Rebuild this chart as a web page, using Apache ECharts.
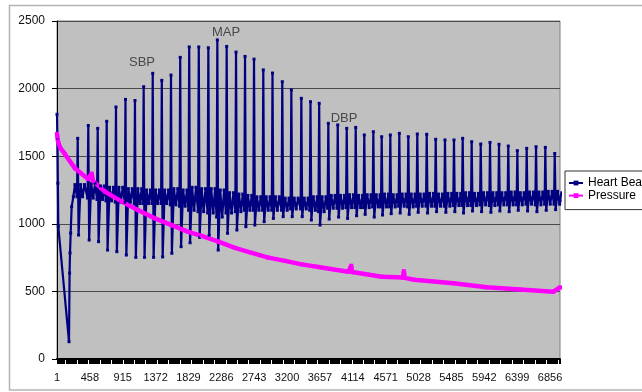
<!DOCTYPE html>
<html><head><meta charset="utf-8">
<script src="https://cdn.jsdelivr.net/npm/echarts@6/dist/echarts.min.js"></script>
<style>html,body{margin:0;padding:0;background:#fff}#c{width:642px;height:392px}</style>
</head><body><div id="c"></div>
<script>
// ---- data ----
const xTickLabels = ['1','458','915','1372','1829','2286','2743','3200','3657','4114','4571','5028','5485','5942','6399','6856'];
const xStep = 457;
const xLast = 6993;

// initial transient of the heart-beat trace (sample, value)
const startX = [0, 6, 12, 18, 167, 175, 181, 190, 204, 227, 250];
const startY = [1810, 1620, 1300, 980, 128, 636, 784, 932, 1127, 1200, 1290];

// per-beat samples: position of the beat, peak, trough, band high, band low
const beatX = [288,435,566,691,820,952,1084,1205,1331,1457,
  1585,1713,1838,1971,2104,2229,2359,2489,2614,2739,
  2868,2996,3132,3258,3397,3524,3645,3772,3903,4028,
  4153,4272,4398,4514,4634,4759,4884,5009,5140,5265,
  5394,5519,5640,5765,5891,6020,6145,6274,6400,6530,
  6660,6789,6920];
const beatPeak = [1632,1727,1706,1758,1864,1920,1912,2014,2113,2061,
  2100,2231,2308,2308,2302,2360,2312,2270,2238,2218,
  2138,2115,2051,1990,1928,1903,1891,1743,1731,1706,
  1713,1657,1681,1644,1657,1669,1644,1664,1662,1625,
  1620,1620,1632,1607,1590,1602,1588,1575,1541,1558,
  1570,1565,1520];
const beatTrough = [917,880,868,806,794,769,752,752,752,755,
  782,831,860,900,917,806,930,954,979,991,
  1016,1040,1053,1053,1053,1028,991,1035,1050,1040,
  1060,1070,1050,1065,1075,1080,1070,1085,1080,1090,
  1085,1090,1080,1095,1090,1085,1095,1090,1100,1095,
  1090,1100,1105];
const bandHigh = [1290,1300,1280,1270,1270,1260,1260,1250,1250,1250,
  1260,1250,1270,1260,1260,1250,1230,1220,1210,1200,
  1200,1200,1190,1190,1190,1200,1200,1210,1210,1215,
  1210,1215,1215,1220,1215,1220,1220,1220,1225,1220,
  1225,1225,1230,1225,1230,1230,1230,1235,1230,1235,
  1235,1240,1240];
const bandLow = [1200,1190,1180,1170,1160,1160,1150,1150,1150,1150,
  1140,1130,1100,1090,1080,1050,1080,1090,1100,1100,
  1100,1100,1100,1110,1110,1100,1090,1115,1115,1120,
  1120,1120,1125,1125,1125,1130,1125,1130,1130,1130,
  1130,1135,1135,1135,1140,1135,1140,1140,1140,1145,
  1140,1145,1145];
const heartEnd = 1170;

// pressure trace (sample, value)
const pressureX = [0,14,42,111,250,435,482,500,667,900,1130,1362,1595,1825,2012,2243,2475,2707,2938,3170,3402,3633,4050,4090,4104,4514,4810,4822,4834,4963,5510,5974,6437,6900,6993];
const pressureY = [1665,1610,1565,1515,1410,1330,1372,1318,1238,1164,1100,1040,990,940,910,868,822,785,750,726,700,681,646,690,643,609,602,650,600,586,560,530,514,498,530];

// annotations
const noteText = ['SBP','MAP','DBP'];
const noteX = [1182, 2349, 3990];
const noteY = [2197, 2419, 1780];

// ---- build series data ----
const heart = startX.map((x, i) => [x, startY[i]]);
beatX.forEach((t, i) => {
  heart.push([t - 10, bandLow[i]]);
  heart.push([t, beatPeak[i]]);
  heart.push([t + 12, beatTrough[i]]);
  heart.push([t + 40, bandHigh[i]]);
  heart.push([t + 68, bandLow[i]]);
  heart.push([t + 94, bandHigh[i]]);
});
heart.push([xLast, heartEnd]);
const pressure = pressureX.map((x, i) => [x, pressureY[i]]);
const notes = noteText.map((n, i) => ({ name: n, value: [noteX[i], noteY[i]] }));

const chart = echarts.init(document.getElementById('c'), null, { renderer: 'canvas' });
chart.setOption({
  animation: false,
  backgroundColor: '#fff',
  textStyle: { fontFamily: 'Liberation Sans, Arial, sans-serif' },
  graphic: [{
    type: 'rect', silent: true, z: -10,
    shape: { x: 9.5, y: 5.5, width: 640, height: 384.5 },
    style: { fill: 'none', stroke: '#b4b4b4', lineWidth: 1.5 }
  }],
  grid: {
    left: 57, right: 82, top: 21, bottom: 33,
    show: true, backgroundColor: '#c0c0c0', borderColor: '#808080', borderWidth: 1
  },
  legend: {
    data: ['Heart Beat', 'Pressure'],
    orient: 'vertical', left: 565, top: 171,
    borderColor: '#333', borderWidth: 1, borderRadius: 0,
    padding: [6, 40, 8, 3],
    itemWidth: 14, itemHeight: 6, itemGap: 0.6,
    textStyle: { fontSize: 12, lineHeight: 10, color: '#000', fontFamily: 'Liberation Sans, Arial, sans-serif' }
  },
  xAxis: {
    type: 'value', min: 0, max: xLast, interval: xStep,
    axisLine: { show: true, lineStyle: { color: '#000', width: 2 } },
    axisTick: { show: true, length: 5, lineStyle: { color: '#000' } },
    minorTick: { show: true, splitNumber: 30, length: 5, lineStyle: { color: '#000' } },
    splitLine: { show: false },
    axisLabel: {
      showMaxLabel: false, margin: 13, fontSize: 11, color: '#111',
      formatter: v => { const k = Math.round(v / xStep); return Math.abs(k * xStep - v) < 1e-6 && xTickLabels[k] ? xTickLabels[k] : ''; }
    }
  },
  yAxis: {
    type: 'value', min: 0, max: 2500, interval: 500,
    axisLine: { show: true, lineStyle: { color: '#000', width: 1 } },
    axisTick: { show: true, length: 5, lineStyle: { color: '#000' } },
    splitLine: { show: true, lineStyle: { color: '#4a4a4a', width: 1 } },
    axisLabel: { margin: 12, fontSize: 12, color: '#111', formatter: v => String(v) }
  },
  series: [
    {
      name: 'Heart Beat', type: 'line', data: heart,
      color: '#000080',
      lineStyle: { color: '#000080', width: 2.2 },
      itemStyle: { color: '#000080' },
      symbol: 'rect', symbolSize: 3, showSymbol: true,
      emphasis: { disabled: true }
    },
    {
      name: 'Pressure', type: 'line', data: pressure,
      color: '#ff00ff',
      lineStyle: { color: '#ff00ff', width: 4.5 },
      itemStyle: { color: '#ff00ff' },
      symbol: 'rect', symbolSize: 4, showSymbol: true,
      emphasis: { disabled: true }
    },
    {
      name: 'notes', type: 'scatter', data: notes,
      symbolSize: 1, itemStyle: { color: 'rgba(0,0,0,0)' },
      label: { show: true, position: 'inside', formatter: p => p.name, fontSize: 13, color: '#2a2a2a' },
      emphasis: { disabled: true }, z: 5
    }
  ]
});
</script></body></html>
